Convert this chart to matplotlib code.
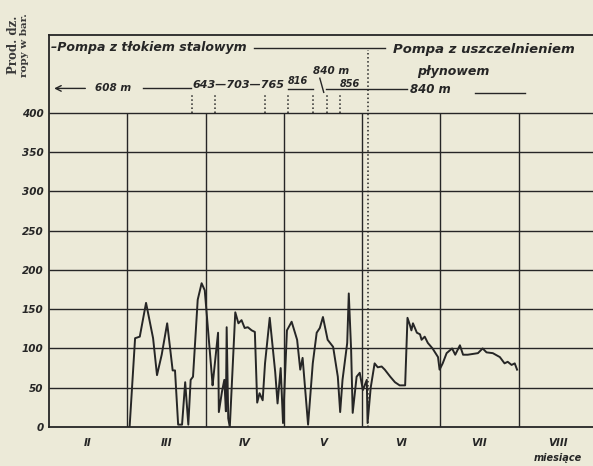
import matplotlib.pyplot as plt

# production curve: position in months (0 = start of II) and daily production
month_pos = [1.03, 1.10, 1.16, 1.24, 1.33, 1.38, 1.44, 1.51, 1.55, 1.58, 1.61, 1.65,
             1.70, 1.74, 1.78, 1.81, 1.84, 1.90, 1.95, 1.99, 2.08, 2.09, 2.16, 2.17,
             2.21, 2.24, 2.26, 2.27, 2.29, 2.31, 2.38, 2.42, 2.46, 2.50, 2.54, 2.59,
             2.63, 2.66, 2.69, 2.73, 2.76, 2.82, 2.89, 2.92, 2.96, 2.99, 3.04, 3.10,
             3.17, 3.21, 3.24, 3.31, 3.37, 3.42, 3.46, 3.50, 3.56, 3.63, 3.69, 3.72,
             3.75, 3.81, 3.83, 3.86, 3.88, 3.93, 3.97, 4.01, 4.06, 4.07, 4.11, 4.16,
             4.20, 4.25, 4.29, 4.36, 4.42, 4.48, 4.55, 4.58, 4.61, 4.63, 4.65, 4.70,
             4.74, 4.76, 4.80, 4.84, 4.90, 4.97, 4.99, 5.03, 5.08, 5.15, 5.19, 5.25,
             5.29, 5.35, 5.48, 5.54, 5.59, 5.67, 5.76, 5.82, 5.86, 5.91, 5.95, 5.98]
production = [0, 113, 115, 158, 113, 66, 92, 132, 98, 72, 72, 3,
              3, 57, 3, 60, 64, 162, 183, 174, 66, 53, 120, 19,
              45, 60, 20, 127, 11, 0, 146, 132, 136, 126, 127, 123,
              121, 31, 43, 34, 81, 139, 70, 30, 75, 5, 123, 134,
              111, 73, 88, 3, 81, 120, 126, 140, 111, 102, 64, 19,
              60, 107, 170, 98, 18, 64, 69, 47, 60, 5, 50, 81,
              76, 77, 73, 64, 57, 53, 53, 139, 130, 123, 132, 120,
              118, 111, 115, 107, 100, 89, 73, 81, 94, 100, 92, 104,
              92, 92, 94, 100, 95, 94, 89, 81, 83, 79, 81, 73]

months = ['II', 'III', 'IV', 'V', 'VI', 'VII', 'VIII']
y_ticks = [0, 50, 100, 150, 200, 250, 300, 350, 400]
depth_marks = [1.83, 2.12, 2.76, 3.05, 3.37, 3.55, 3.72]   # depth changes (dotted)
pump_change = 4.07                                          # pump replaced

bg = '#ecead8'
ink = '#262626'
lab = dict(style='italic', fontweight='bold', color=ink)

fig = plt.figure(figsize=(5.93, 4.66), dpi=100, facecolor=bg)
ax = fig.add_axes([0.0826, 0.0837, 0.9174, 0.8412], facecolor=bg)
ax.set_xlim(0, 6.95)
ax.set_ylim(0, 499)

ax.spines['right'].set_visible(False)
for s in ['left', 'top', 'bottom']:
    ax.spines[s].set_color(ink)
    ax.spines[s].set_linewidth(1.3)

# grid
ax.hlines(y_ticks[1:], 0, 7, color=ink, lw=1.0)
ax.vlines(range(1, 7), 0, 400, color=ink, lw=1.0)

# curve
ax.plot(month_pos, production, color=ink, lw=1.4)

# ticks
ax.set_yticks(y_ticks)
ax.set_yticklabels([str(v) for v in y_ticks], fontsize=7.5, **lab)
ax.set_xticks([i + 0.5 for i in range(len(months))])
ax.set_xticklabels(months, fontsize=7.5, **lab)
ax.tick_params(length=0, pad=4)
ax.tick_params(axis='x', pad=8)
ax.text(6.5, -0.08, 'miesiące', transform=ax.get_xaxis_transform(),
        ha='center', va='center', fontsize=7, **lab)

# y label
fig.text(0.022, 0.903, 'Prod. dz.', rotation=90, ha='center', va='center',
         fontsize=8.5, family='DejaVu Serif', fontweight='bold', color='#3a3a3a')
fig.text(0.042, 0.903, 'ropy w bar.', rotation=90, ha='center', va='center',
         fontsize=7.5, family='DejaVu Serif', fontweight='bold', color='#3a3a3a')

# header: pump types and depths
ax.text(0.02, 483, '–Pompa z tłokiem stalowym', ha='left', va='center', fontsize=9, **lab)
ax.plot([2.62, 4.29], [483, 483], color=ink, lw=1.0)
ax.text(4.39, 480, 'Pompa z uszczelnieniem', ha='left', va='center', fontsize=9.5, **lab)
ax.text(5.17, 453, 'płynowem', ha='center', va='center', fontsize=9, **lab)
ax.text(4.61, 429, '840 m', ha='left', va='center', fontsize=8.5, **lab)
ax.plot([5.44, 6.08], [425, 425], color=ink, lw=1.0)

ax.annotate('', xy=(0.03, 431), xytext=(0.50, 431),
            arrowprops=dict(arrowstyle='->', color=ink, lw=1.0))
ax.text(0.59, 431, '608 m', ha='left', va='center', fontsize=7.5, **lab)
ax.plot([1.20, 1.82], [431, 431], color=ink, lw=1.0)
ax.text(1.83, 435, '643—703—765', ha='left', va='center', fontsize=8, **lab)
ax.text(3.05, 440, '816', ha='left', va='center', fontsize=7, **lab)
ax.plot([3.05, 3.37], [430, 430], color=ink, lw=1.0)
ax.text(3.37, 453, '840 m', ha='left', va='center', fontsize=7.5, **lab)
ax.plot([3.46, 3.51], [444, 426], color=ink, lw=1.0)
ax.text(3.72, 437, '856', ha='left', va='center', fontsize=7, **lab)
ax.plot([3.54, 4.58], [430, 430], color=ink, lw=1.0)

ax.vlines(depth_marks, 400, 422, color=ink, lw=1.1, linestyles=':')
ax.vlines([pump_change], 0, 480, color=ink, lw=1.1, linestyles=':')

fig.savefig('out.png', dpi=100, facecolor=bg)
